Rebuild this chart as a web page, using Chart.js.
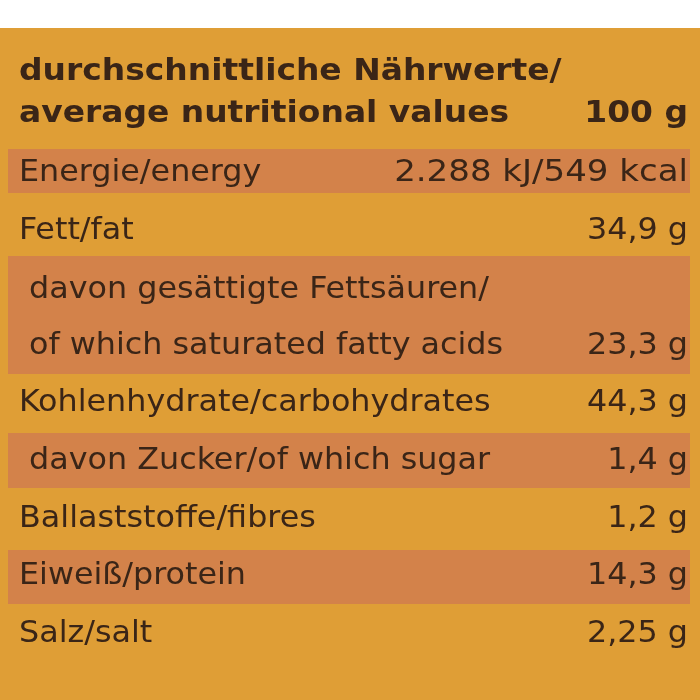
<!DOCTYPE html>
<html>
<head>
<meta charset="utf-8">
<script src="https://cdn.jsdelivr.net/npm/chart.js@4"></script>
<style>
  body { margin: 0; background: #fff; }
  #wrap { width: 700px; height: 700px; }
</style>
</head>
<body>
<div id="wrap"><canvas id="label"></canvas></div>
<script>
// text lines of the label (y is the line's centre in picture units)
var lineTexts = ["durchschnittliche Nährwerte/", "average nutritional values", "Energie/energy", "Fett/fat",
  " davon gesättigte Fettsäuren/", " of which saturated fatty acids", "Kohlenhydrate/carbohydrates",
  " davon Zucker/of which sugar", "Ballaststoffe/fibres", "Eiweiß/protein", "Salz/salt"];
var lineValues = ["", "100 g", "2.288 kJ/549 kcal", "34,9 g", "", "23,3 g", "44,3 g", "1,4 g", "1,2 g", "14,3 g", "2,25 g"];
var lineY = [72, 114, 173, 231, 290, 346, 403, 461, 519, 576, 634];
var lineBold = [true, true, false, false, false, false, false, false, false, false, false];
// shaded rows: top and bottom
var stripeTop = [149, 256, 433, 550];
var stripeBottom = [193, 374, 488, 604];

var bgColor = "#DF9E36";
var stripeColor = "#D3824A";
var inkColor = "#3A2517";

// draw text stretched sideways, like the wide print on the pack
function stretchText(ctx, text, px, py, sx, align) {
  ctx.save();
  ctx.translate(px, py);
  ctx.scale(sx, 1);
  ctx.textAlign = align;
  ctx.fillText(text, 0, 0);
  ctx.restore();
}

var labelPlugin = {
  id: 'labelPlugin',
  beforeDatasetsDraw: function(chart) {
    var ctx = chart.ctx, x = chart.scales.x, y = chart.scales.y;
    ctx.save();
    ctx.fillStyle = bgColor;
    ctx.fillRect(x.getPixelForValue(0), y.getPixelForValue(28), x.getPixelForValue(700) - x.getPixelForValue(0), y.getPixelForValue(700) - y.getPixelForValue(28));
    ctx.fillStyle = stripeColor;
    for (var i = 0; i < stripeTop.length; i++) {
      ctx.fillRect(x.getPixelForValue(8), y.getPixelForValue(stripeTop[i]), x.getPixelForValue(690) - x.getPixelForValue(8), y.getPixelForValue(stripeBottom[i]) - y.getPixelForValue(stripeTop[i]));
    }
    ctx.fillStyle = inkColor;
    ctx.textBaseline = "middle";
    for (var j = 0; j < lineTexts.length; j++) {
      ctx.font = lineBold[j] ? "bold 31px 'DejaVu Sans Condensed', 'DejaVu Sans'" : "31px 'DejaVu Sans Condensed', 'DejaVu Sans'";
      var sx = lineBold[j] ? 1.18 : 1.14;
      stretchText(ctx, lineTexts[j], x.getPixelForValue(19), y.getPixelForValue(lineY[j]), sx, "left");
      stretchText(ctx, lineValues[j], x.getPixelForValue(688), y.getPixelForValue(lineY[j]), j == 2 ? 1.22 : sx, "right");
    }
    ctx.restore();
  }
};

new Chart(document.getElementById("label"), {
  type: 'scatter',
  data: { datasets: [{ data: [], pointRadius: 0 }] },
  options: {
    responsive: true,
    maintainAspectRatio: false,
    animation: false,
    layout: { padding: 0 },
    plugins: { legend: { display: false }, tooltip: { enabled: false } },
    scales: {
      x: { type: 'linear', min: 0, max: 700, display: false },
      y: { type: 'linear', min: 0, max: 700, reverse: true, display: false }
    }
  },
  plugins: [labelPlugin]
});
</script>
</body>
</html>
